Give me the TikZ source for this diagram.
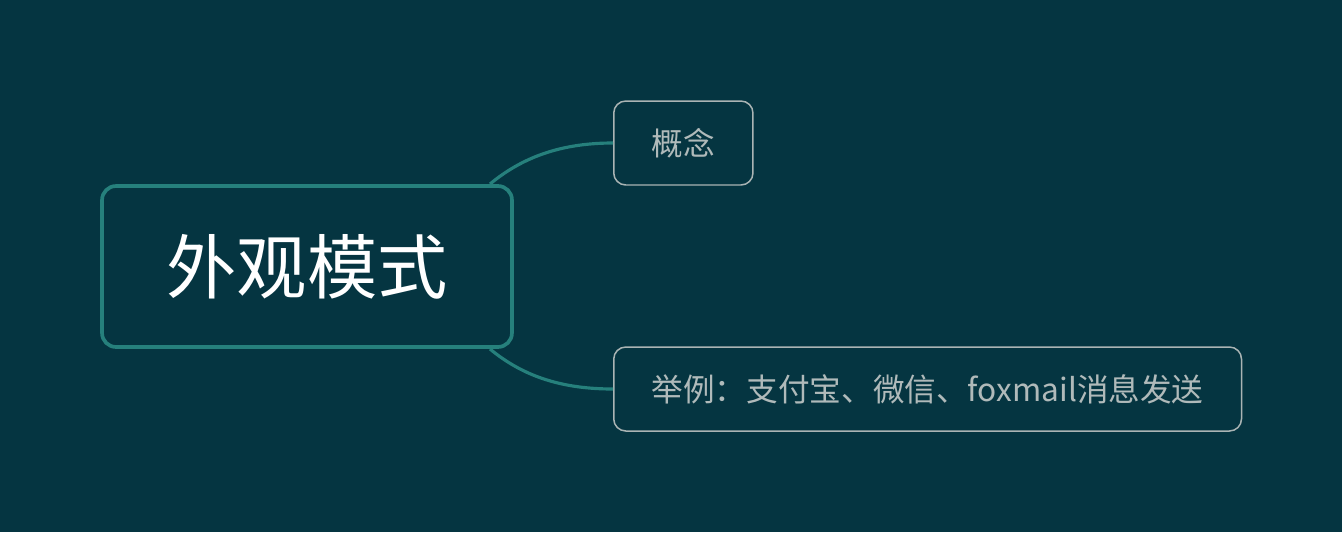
\documentclass[tikz,border=0pt]{standalone}
\usepackage{fontspec}
\setmainfont{Noto Sans CJK SC}
\usetikzlibrary{positioning}
\definecolor{bgdark}{RGB}{5,53,65}
\definecolor{rootline}{RGB}{38,128,124}
\definecolor{leafline}{RGB}{170,180,180}
\definecolor{leaftext}{RGB}{176,186,186}
\tikzset{
  rootnode/.style = {shape=rectangle, rounded corners=0.28cm,
                     draw=rootline, line width=2.1pt, fill=bgdark,
                     minimum width=8.2cm, minimum height=3.22cm,
                     text=white, font=\fontsize{40}{48}\selectfont},
  leafnode/.style = {shape=rectangle, rounded corners=0.24cm,
                     draw=leafline, line width=0.85pt, fill=bgdark,
                     minimum height=1.68cm, inner xsep=0.76cm,
                     text=leaftext, font=\fontsize{18}{22}\selectfont},
  branch/.style = {draw=rootline, line width=1.8pt}
}
\begin{document}
\begin{tikzpicture}[x=0.02cm, y=-0.02cm]
  \fill[bgdark] (0,0) rectangle (1342,532);
  \useasboundingbox (0,0) rectangle (1342,532);
  \node (root) [rootnode] at (307,266.5) {外观模式};
  \node (concept) [leafnode, anchor=west] at (613,143) {概念};
  \node (example) [leafnode, anchor=west] at (613,389) {举例：支付宝、微信、foxmail消息发送};
  \coordinate (rootup) at (490,184);
  \coordinate (rootdown) at (490,349);
  \draw [branch] (rootup) .. controls (525,155) and (565,143) .. (concept.west);
  \draw [branch] (rootdown) .. controls (525,378) and (565,389) .. (example.west);
\end{tikzpicture}
\end{document}
